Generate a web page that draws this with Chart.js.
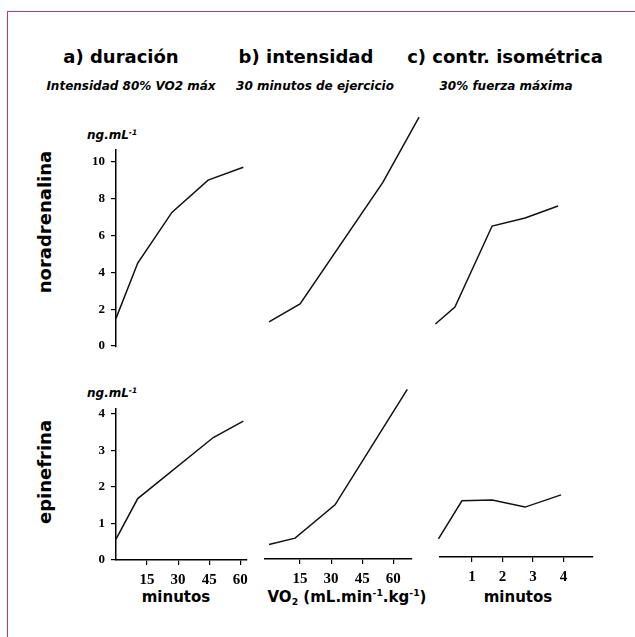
<!DOCTYPE html>
<html lang="es">
<head>
<meta charset="utf-8">
<script src="https://cdn.jsdelivr.net/npm/chart.js@4.4.1/dist/chart.umd.min.js"></script>
<style>
  html, body { margin: 0; padding: 0; background: #fff; }
  body { width: 635px; height: 637px; position: relative; overflow: hidden; font-family: "DejaVu Sans", sans-serif; color: #000; }
  .frame { position: absolute; left: 7px; top: 11px; width: 700px; height: 700px; border-left: 1px solid #c4346c; border-top: 1px solid #c4346c; }
  canvas { position: absolute; }
  .txt { position: absolute; white-space: nowrap; line-height: 1; }
  .title { font-weight: bold; font-size: 18px; transform: translateX(-50%); }
  .sub { font-weight: bold; font-style: italic; font-size: 12px; transform: translateX(-50%); }
  .side { font-weight: bold; font-size: 18px; transform: translate(-50%, -50%) rotate(-90deg); }
  .unit { font-weight: bold; font-style: italic; font-size: 12px; }
  .axis { font-weight: bold; font-size: 15px; transform: translateX(-50%); }
  sup { font-size: 0.62em; vertical-align: 0.6em; line-height: 0; }
  sub { font-size: 0.62em; vertical-align: -0.3em; line-height: 0; }
</style>
</head>
<body>
<div class="frame"></div>

<div class="txt title" style="left:121px; top:48px;">a) duración</div>
<div class="txt title" style="left:306px; top:48px;">b) intensidad</div>
<div class="txt title" style="left:505px; top:48px;">c) contr. isométrica</div>

<div class="txt sub" style="left:131px; top:80px;">Intensidad 80% VO2 máx</div>
<div class="txt sub" style="left:315px; top:80px;">30 minutos de ejercicio</div>
<div class="txt sub" style="left:506px; top:80px;">30% fuerza máxima</div>

<div class="txt side" style="left:45px; top:222px;">noradrenalina</div>
<div class="txt side" style="left:45px; top:472px;">epinefrina</div>

<div class="txt unit" style="left:87px; top:129px;">ng.mL<sup>-1</sup></div>
<div class="txt unit" style="left:87px; top:387px;">ng.mL<sup>-1</sup></div>

<div class="txt axis" style="left:176px; top:590px;">minutos</div>
<div class="txt axis" style="left:347px; top:590px;">VO<sub>2</sub> (mL.min<sup>-1</sup>.kg<sup>-1</sup>)</div>
<div class="txt axis" style="left:518px; top:590px;">minutos</div>

<canvas id="aNora"></canvas>
<canvas id="bNora"></canvas>
<canvas id="cNora"></canvas>
<canvas id="aEpi"></canvas>
<canvas id="bEpi"></canvas>
<canvas id="cEpi"></canvas>

<script>
// a) duración: minutos de ejercicio al 80% VO2 máx
const durMinNora = [0, 10.5, 27, 44.5, 61.5];
const durNora = [1.5, 4.5, 7.25, 9.0, 9.7];
const durMinEpi = [0, 10.5, 47, 61.5];
const durEpi = [0.57, 1.68, 3.35, 3.8];

// b) intensidad: VO2 (mL.min-1.kg-1) tras 30 minutos
const intVO2Nora = [0, 15, 55, 72.5];
const intNora = [1.3, 2.26, 8.8, 12.3];
const intVO2Epi = [0, 12.6, 31.9, 66.8];
const intEpi = [0.42, 0.59, 1.49, 4.61];

// c) contracción isométrica al 30% de la fuerza máxima
const isoMinNora = [-0.2, 0.44, 1.66, 2.74, 3.82];
const isoNora = [1.18, 2.1, 6.45, 6.88, 7.53];
const isoMinEpi = [-0.1, 0.67, 1.66, 2.74, 3.92];
const isoEpi = [0.57, 1.6, 1.62, 1.43, 1.76];

// tick labels
const noraTicks = [0, 2, 4, 6, 8, 10];
const epiTicks = [0, 1, 2, 3, 4];
const minTicks = [15, 30, 45, 60];
const vo2Ticks = [15, 30, 45, 60];
const isoTicks = [1, 2, 3, 4];

const PAD = 12, Y_W = 60, X_H = 34;

// page geometry per column (x of value 0, px per unit, plot edges)
const cols = {
  a: { x0: 116, k: 2.07, l: 116, r: 247 },
  b: { x0: 269, k: 2.07, l: 265, r: 412 },
  c: { x0: 441.5, k: 30.5, l: 440, r: 593 },
};
// page geometry per row (y of value 0, px per unit)
const rows = {
  nora: { y0: 346, k: 18.6 },
  epi: { y0: 560, k: 37 },
};

const tickFont = (size) => ({ family: "'Liberation Serif', serif", size, weight: "bold" });

function panel(id, col, row, top, bottom, xs, ys, o) {
  const c = cols[col], r = rows[row];
  const yW = o.showY ? Y_W : 0;
  const cv = document.getElementById(id);
  const w = c.r - c.l + yW + 2 * PAD;
  const h = bottom - top + X_H + PAD;
  cv.width = w;
  cv.height = h;
  cv.style.left = (c.l - yW - PAD) + "px";
  cv.style.top = (top - PAD) + "px";
  cv.style.width = w + "px";
  cv.style.height = h + "px";

  const hiddenAxis = {
    ticks: { display: false },
    grid: { display: false },
    border: { display: false },
  };

  return new Chart(cv, {
    type: "line",
    data: {
      datasets: [{
        data: xs.map((x, i) => ({ x, y: ys[i] })),
        borderColor: "#111",
        borderWidth: 1.5,
        pointRadius: 0,
        tension: 0,
        fill: false,
        clip: false,
      }],
    },
    options: {
      responsive: false,
      animation: false,
      events: [],
      layout: { padding: { left: PAD, right: PAD, top: PAD, bottom: 0 } },
      plugins: { legend: { display: false }, tooltip: { enabled: false } },
      scales: {
        x: Object.assign({
          type: "linear",
          min: (c.l - c.x0) / c.k,
          max: (c.r - c.x0) / c.k,
          afterFit: (s) => { s.height = X_H; },
          afterBuildTicks: (s) => { s.ticks = (o.xTicks || []).map((v) => ({ value: v })); },
        }, o.xTicks ? {
          ticks: { color: "#000", font: tickFont(15), padding: 6, maxRotation: 0, autoSkip: false },
          grid: { drawOnChartArea: false, tickLength: 5, color: "#000", lineWidth: 1.2 },
          border: { display: true, color: "#000", width: 1.5 },
        } : hiddenAxis),
        y: Object.assign({
          type: "linear",
          min: (r.y0 - bottom) / r.k,
          max: (r.y0 - top) / r.k,
          afterFit: (s) => { s.width = yW; },
          afterBuildTicks: (s) => { s.ticks = (o.yTicks || []).map((v) => ({ value: v })); },
        }, o.showY ? {
          ticks: { color: "#000", font: tickFont(13), padding: 6, autoSkip: false },
          grid: { drawOnChartArea: false, tickLength: 5, color: "#000", lineWidth: 1.2 },
          border: { display: true, color: "#000", width: 1.5 },
        } : hiddenAxis),
      },
    },
  });
}

// noradrenalina
panel("aNora", "a", "nora", 148, 347, durMinNora, durNora, { showY: true, yTicks: noraTicks });
panel("bNora", "b", "nora", 105, 347, intVO2Nora, intNora, {});
panel("cNora", "c", "nora", 105, 347, isoMinNora, isoNora, {});

// epinefrina
panel("aEpi", "a", "epi", 407, 560, durMinEpi, durEpi, { showY: true, yTicks: epiTicks, xTicks: minTicks });
panel("bEpi", "b", "epi", 380, 559, intVO2Epi, intEpi, { xTicks: vo2Ticks });
panel("cEpi", "c", "epi", 380, 557, isoMinEpi, isoEpi, { xTicks: isoTicks });
</script>
</body>
</html>
